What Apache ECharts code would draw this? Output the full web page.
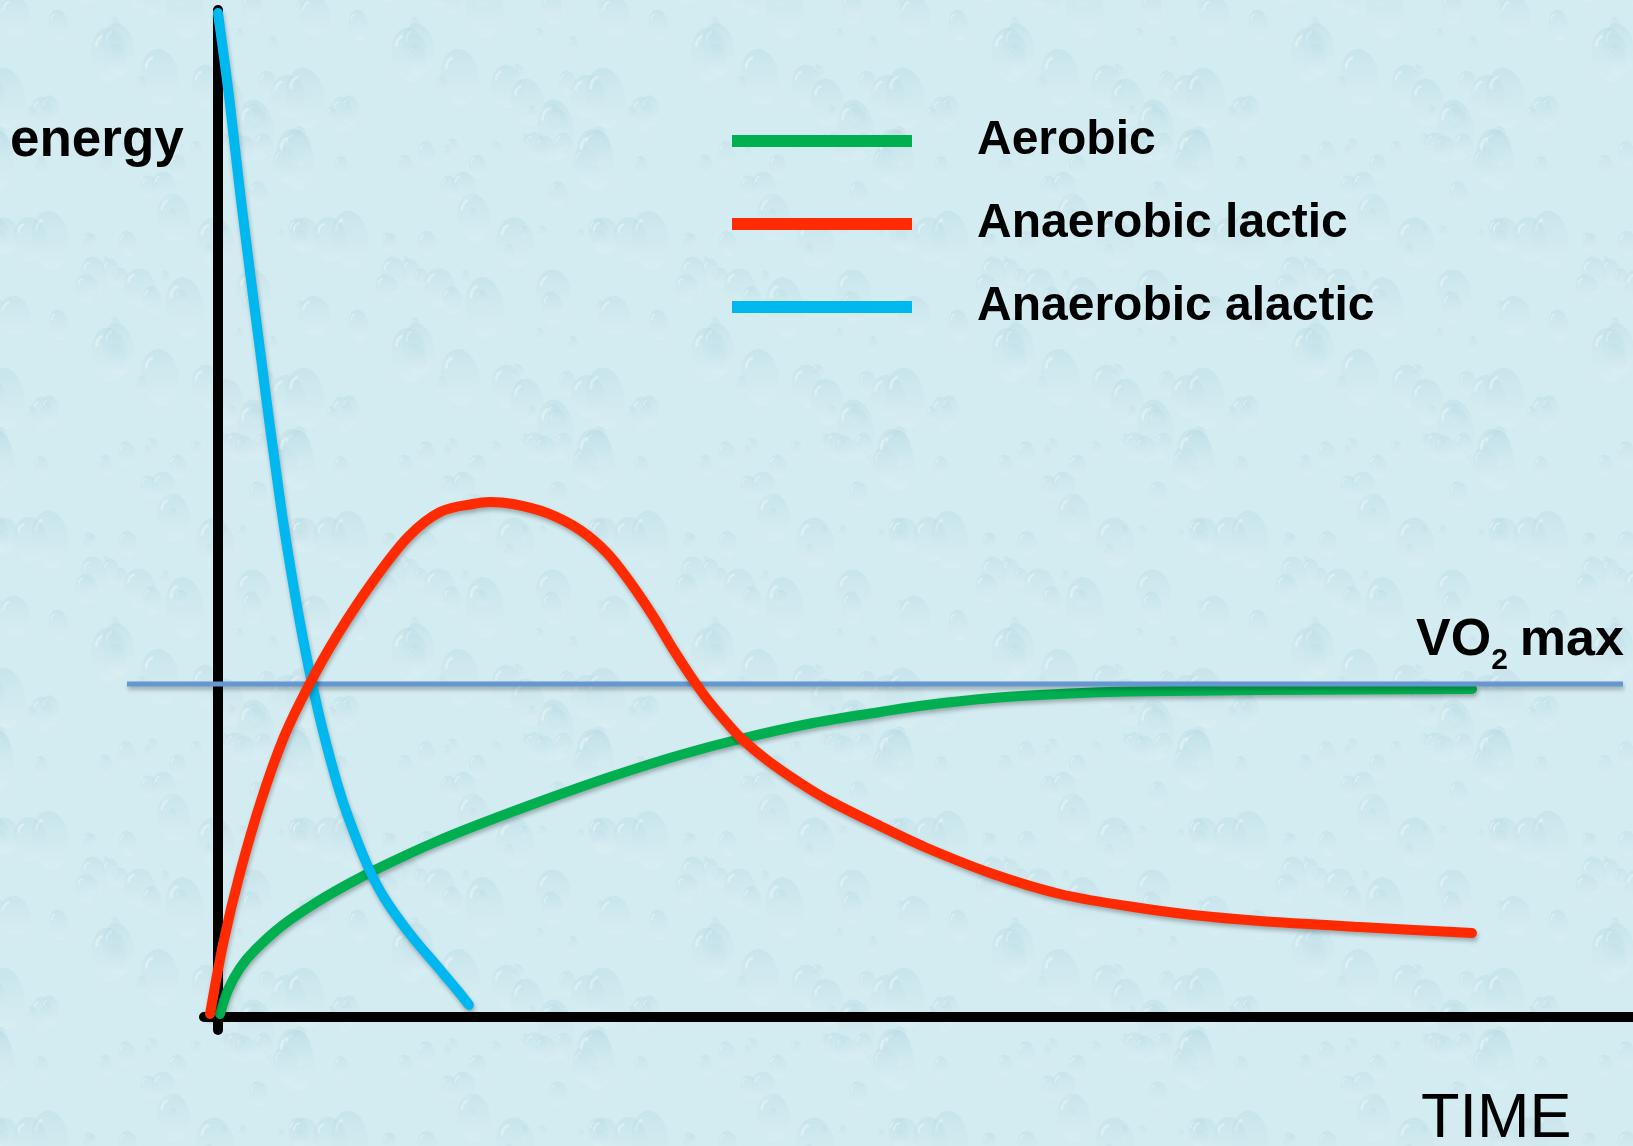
<!DOCTYPE html>
<html>
<head>
<meta charset="utf-8">
<script src="https://cdn.jsdelivr.net/npm/echarts@6/dist/echarts.min.js"></script>
<style>
  html, body { margin: 0; padding: 0; background: #cfe9ef; }
  #chart { width: 1633px; height: 1146px; background-color: #cfe9ef; }
</style>
</head>
<body>
<div id="chart"></div>
<script>
// Energy systems over time: [time, energy] pairs
const seriesNames = ['Aerobic', 'Anaerobic lactic', 'Anaerobic alactic'];

const aerobic = [
  [0.14, 0.3], [0.71, 2.7], [1.57, 4.9], [2.64, 6.7], [4.64, 9.2], [7.07, 11.5],
  [9.43, 13.4], [11.79, 15.1], [15.36, 17.4], [18.71, 19.3], [23.5, 21.8],
  [28.21, 24.1], [33.0, 26.2], [37.29, 27.8], [42.5, 29.4], [47.29, 30.5],
  [50.64, 31.2], [55.36, 31.9], [60.14, 32.3], [64.93, 32.55], [74.43, 32.7],
  [89.57, 32.8]
];

const lactic = [
  [-0.57, 0.3], [0.36, 7.3], [1.57, 14.4], [3.07, 21.6], [4.71, 28.0], [6.5, 33.2],
  [8.57, 38.3], [11.14, 43.7], [13.57, 48.0], [15.86, 50.5], [18.21, 51.3],
  [19.43, 51.5], [21.07, 51.3], [23.5, 50.4], [25.86, 48.7], [27.79, 46.4],
  [29.43, 43.5], [31.07, 40.1], [32.5, 36.8], [33.71, 34.2], [34.93, 31.8],
  [36.36, 29.4], [37.5, 27.7], [39.21, 25.7], [41.36, 23.6], [43.71, 21.6],
  [47.29, 19.1], [50.64, 16.9], [55.36, 14.3], [60.14, 12.3], [64.93, 11.1],
  [69.64, 10.2], [74.43, 9.6], [81.57, 9.0], [89.57, 8.4]
];

const alactic = [
  [0.0, 100.4], [0.82, 91.7], [1.64, 81.7], [2.54, 71.7], [3.46, 61.7], [4.43, 51.7],
  [4.98, 46.6], [5.86, 39.4], [6.74, 33.2], [7.48, 28.7], [8.52, 23.3],
  [9.35, 19.8], [10.69, 15.1], [11.88, 11.9], [13.71, 8.3], [15.64, 5.1],
  [17.14, 2.6], [17.93, 1.2]
];

// VO2 max reference level and its horizontal extent (own x scale 0..1)
const vo2maxLevel = 33.3;
const vo2maxSpan = [0, 1];

const colors = {
  aerobic: '#00b050',
  lactic: '#ff2a00',
  alactic: '#00b8f0',
  vo2: '#6797d0'
};

const fontFamily = '"Liberation Sans", Arial, Helvetica, sans-serif';

const shadow = {
  shadowColor: 'rgba(0,0,0,0.28)',
  shadowBlur: 4,
  shadowOffsetX: 1,
  shadowOffsetY: 3
};

// Water-drop backdrop tile
(function paintBackdrop() {
  const size = 300;
  const c = document.createElement('canvas');
  c.width = size; c.height = size;
  const g = c.getContext('2d');
  g.fillStyle = '#d3ecf1';
  g.fillRect(0, 0, size, size);
  let seed = 11;
  function next() { seed = (seed * 16807) % 2147483647; return seed / 2147483647; }
  for (let i = 0; i < 70; i++) {
    const x = next() * size, y = next() * size;
    const r = 4 + Math.pow(next(), 1.6) * 16;
    const ry = r * (1.2 + next() * 0.5);
    for (let dx = -size; dx <= size; dx += size) {
      for (let dy = -size; dy <= size; dy += size) {
        const cx = x + dx, cy = y + dy;
        if (cx < -40 || cx > size + 40 || cy < -40 || cy > size + 40) continue;
        const grad = g.createLinearGradient(cx, cy - ry, cx, cy + ry);
        grad.addColorStop(0, 'rgba(175,212,224,0.30)');
        grad.addColorStop(1, 'rgba(225,243,247,0.30)');
        g.fillStyle = grad;
        g.beginPath();
        g.ellipse(cx, cy, r, ry, -0.12, 0, Math.PI * 2);
        g.fill();
        g.strokeStyle = 'rgba(255,255,255,0.35)';
        g.lineWidth = Math.max(1, r * 0.15);
        g.beginPath();
        g.ellipse(cx - r * 0.2, cy - ry * 0.3, r * 0.5, ry * 0.4, -0.4, Math.PI * 1.1, Math.PI * 1.55);
        g.stroke();
      }
    }
  }
  document.getElementById('chart').style.backgroundImage = 'url(' + c.toDataURL() + ')';
})();

// Smooth curve through the points (Catmull-Rom → cubic Bézier), placed with the chart's axes
function curve(name, data, color, z) {
  return {
    name: name,
    type: 'custom',
    data: data,
    encode: { x: 0, y: 1 },
    clip: false,
    silent: true,
    z: z,
    itemStyle: { color: color },
    renderItem: function (params, api) {
      if (params.dataIndex !== 0) return null;
      const p = data.map(function (d) { return api.coord(d); });
      let d = 'M' + p[0][0] + ' ' + p[0][1];
      for (let i = 0; i < p.length - 1; i++) {
        const p0 = p[i - 1] || p[i];
        const p1 = p[i];
        const p2 = p[i + 1];
        const p3 = p[i + 2] || p[i + 1];
        const c1x = p1[0] + (p2[0] - p0[0]) / 6;
        const c1y = p1[1] + (p2[1] - p0[1]) / 6;
        const c2x = p2[0] - (p3[0] - p1[0]) / 6;
        const c2y = p2[1] - (p3[1] - p1[1]) / 6;
        d += ' C' + c1x + ' ' + c1y + ' ' + c2x + ' ' + c2y + ' ' + p2[0] + ' ' + p2[1];
      }
      return {
        type: 'path',
        shape: { pathData: d },
        style: Object.assign({
          fill: 'none', stroke: color, lineWidth: 10, lineCap: 'round', lineJoin: 'round'
        }, shadow)
      };
    }
  };
}

const chart = echarts.init(document.getElementById('chart'), null, { renderer: 'canvas' });

const hiddenAxis = {
  axisLine: { show: false },
  axisTick: { show: false },
  axisLabel: { show: false },
  splitLine: { show: false }
};

const option = {
  animation: false,
  backgroundColor: 'transparent',
  title: [
    {
      text: 'energy',
      left: 10, top: 111, padding: 0,
      textStyle: { fontFamily: fontFamily, fontSize: 53, fontWeight: 'bold', color: '#000', lineHeight: 60 }
    },
    {
      text: 'TIME',
      left: 1421, top: 1085, padding: 0,
      textStyle: { fontFamily: fontFamily, fontSize: 63, fontWeight: 'normal', color: '#000', lineHeight: 70 }
    },
    {
      text: '{a|VO}{b|2}{c|max}',
      left: 1416, top: 616, padding: 0,
      textStyle: {
        rich: {
          a: { fontFamily: fontFamily, fontSize: 52, fontWeight: 'bold', color: '#000', lineHeight: 60, padding: [0, 0, 9, 0], verticalAlign: 'bottom' },
          b: { fontFamily: fontFamily, fontSize: 30, fontWeight: 'bold', color: '#000', lineHeight: 36, verticalAlign: 'bottom' },
          c: { fontFamily: fontFamily, fontSize: 52, fontWeight: 'bold', color: '#000', lineHeight: 60, padding: [0, 0, 9, 12], verticalAlign: 'bottom' }
        }
      }
    }
  ],
  legend: {
    data: seriesNames,
    orient: 'vertical',
    left: 732, top: 107,
    padding: 0,
    itemGap: 15,
    icon: 'rect',
    itemWidth: 180,
    itemHeight: 12,
    selectedMode: false,
    textStyle: {
      fontFamily: fontFamily, fontSize: 48, fontWeight: 'bold', color: '#000',
      lineHeight: 56, padding: [0, 0, 12, 60]
    }
  },
  grid: [
    { left: 204, right: 0, top: 10, bottom: 116, containLabel: false },
    { left: 127, right: 10, top: 10, bottom: 116, containLabel: false }
  ],
  xAxis: [
    {
      type: 'value', gridIndex: 0, min: -1, max: 101.07,
      axisLine: { show: true, onZero: true, lineStyle: { color: '#000', width: 10 } },
      axisTick: { show: false }, axisLabel: { show: false }, splitLine: { show: false }
    },
    Object.assign({ type: 'value', gridIndex: 1, min: vo2maxSpan[0], max: vo2maxSpan[1] }, hiddenAxis)
  ],
  yAxis: [
    {
      type: 'value', gridIndex: 0, min: -1.3, max: 100.7,
      axisLine: { show: true, onZero: true, lineStyle: { color: '#000', width: 10 } },
      axisTick: { show: false }, axisLabel: { show: false }, splitLine: { show: false }
    },
    Object.assign({ type: 'value', gridIndex: 1, min: -1.3, max: 100.7 }, hiddenAxis)
  ],
  series: [
    curve(seriesNames[0], aerobic, colors.aerobic, 2),
    {
      name: 'VO2 max',
      type: 'line',
      xAxisIndex: 1, yAxisIndex: 1,
      data: vo2maxSpan.map(function (x) { return [x, vo2maxLevel]; }),
      symbol: 'none', showSymbol: false, clip: false, z: 3,
      itemStyle: { color: colors.vo2 },
      lineStyle: Object.assign({ width: 5, color: colors.vo2 }, shadow),
      emphasis: { disabled: true }
    },
    curve(seriesNames[2], alactic, colors.alactic, 4),
    curve(seriesNames[1], lactic, colors.lactic, 5)
  ]
};

chart.setOption(option);
</script>
</body>
</html>
